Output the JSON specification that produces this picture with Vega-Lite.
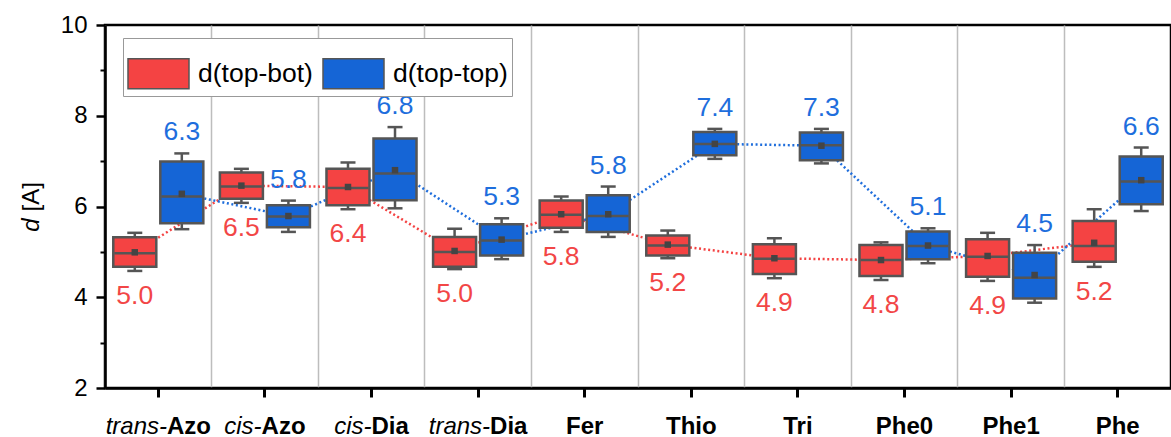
{
  "$schema": "https://vega.github.io/schema/vega-lite/v6.json",
  "width": 1066,
  "height": 363,
  "autosize": {"type": "none"},
  "padding": {"left": 105, "top": 25, "right": 0, "bottom": 49},
  "background": "white",
  "config": {
    "font": "Liberation Sans",
    "view": {"stroke": "black", "strokeWidth": 2.5}
  },
  "data": {
    "values": [
      {"cat": "trans-Azo", "s": "d(top-bot)", "min": 4.58, "q1": 4.67, "med": 4.97, "mean": 4.99, "q3": 5.32, "max": 5.42},
      {"cat": "trans-Azo", "s": "d(top-top)", "min": 5.50, "q1": 5.63, "med": 6.22, "mean": 6.28, "q3": 6.99, "max": 7.17},
      {"cat": "cis-Azo", "s": "d(top-bot)", "min": 6.08, "q1": 6.17, "med": 6.44, "mean": 6.46, "q3": 6.75, "max": 6.83},
      {"cat": "cis-Azo", "s": "d(top-top)", "min": 5.44, "q1": 5.54, "med": 5.78, "mean": 5.79, "q3": 6.03, "max": 6.13},
      {"cat": "cis-Dia", "s": "d(top-bot)", "min": 5.94, "q1": 6.03, "med": 6.41, "mean": 6.43, "q3": 6.83, "max": 6.97},
      {"cat": "cis-Dia", "s": "d(top-top)", "min": 5.96, "q1": 6.14, "med": 6.73, "mean": 6.80, "q3": 7.50, "max": 7.75},
      {"cat": "trans-Dia", "s": "d(top-bot)", "min": 4.62, "q1": 4.67, "med": 5.00, "mean": 5.02, "q3": 5.33, "max": 5.51},
      {"cat": "trans-Dia", "s": "d(top-top)", "min": 4.84, "q1": 4.92, "med": 5.25, "mean": 5.27, "q3": 5.61, "max": 5.74},
      {"cat": "Fer", "s": "d(top-bot)", "min": 5.44, "q1": 5.53, "med": 5.82, "mean": 5.83, "q3": 6.13, "max": 6.22},
      {"cat": "Fer", "s": "d(top-top)", "min": 5.33, "q1": 5.44, "med": 5.79, "mean": 5.83, "q3": 6.25, "max": 6.44},
      {"cat": "Thio", "s": "d(top-bot)", "min": 4.86, "q1": 4.92, "med": 5.14, "mean": 5.16, "q3": 5.36, "max": 5.47},
      {"cat": "Thio", "s": "d(top-top)", "min": 7.05, "q1": 7.13, "med": 7.38, "mean": 7.38, "q3": 7.64, "max": 7.71},
      {"cat": "Tri", "s": "d(top-bot)", "min": 4.42, "q1": 4.51, "med": 4.85, "mean": 4.86, "q3": 5.17, "max": 5.30},
      {"cat": "Tri", "s": "d(top-top)", "min": 6.95, "q1": 7.02, "med": 7.35, "mean": 7.34, "q3": 7.63, "max": 7.71},
      {"cat": "Phe0", "s": "d(top-bot)", "min": 4.38, "q1": 4.47, "med": 4.82, "mean": 4.82, "q3": 5.15, "max": 5.21},
      {"cat": "Phe0", "s": "d(top-top)", "min": 4.75, "q1": 4.84, "med": 5.13, "mean": 5.14, "q3": 5.45, "max": 5.52},
      {"cat": "Phe1", "s": "d(top-bot)", "min": 4.36, "q1": 4.45, "med": 4.89, "mean": 4.91, "q3": 5.28, "max": 5.42},
      {"cat": "Phe1", "s": "d(top-top)", "min": 3.88, "q1": 3.97, "med": 4.43, "mean": 4.49, "q3": 4.98, "max": 5.15},
      {"cat": "Phe", "s": "d(top-bot)", "min": 4.67, "q1": 4.78, "med": 5.13, "mean": 5.20, "q3": 5.68, "max": 5.94},
      {"cat": "Phe", "s": "d(top-top)", "min": 5.90, "q1": 6.05, "med": 6.55, "mean": 6.58, "q3": 7.10, "max": 7.30}
    ]
  },
  "resolve": {"axis": {"x": "independent", "y": "independent"}},
  "layer": [
    {
      "transform": [{"filter": "datum.s === 'd(top-bot)'"}],
      "mark": {"type": "line", "strokeDash": [2, 2.6], "strokeWidth": 2.5, "color": "#F44343"},
      "encoding": {
        "x": {"field": "cat", "type": "nominal", "sort": ["trans-Azo", "cis-Azo", "cis-Dia", "trans-Dia", "Fer", "Thio", "Tri", "Phe0", "Phe1", "Phe"], "scale": {"type": "band", "paddingInner": 0, "paddingOuter": 0}, "axis": null},
        "xOffset": {"field": "s", "type": "nominal", "sort": ["d(top-bot)", "d(top-top)"], "scale": {"domain": ["d(top-bot)", "d(top-top)"], "paddingInner": 0.085, "paddingOuter": 0.176}},
        "y": {"field": "mean", "type": "quantitative", "scale": {"domain": [2, 10], "nice": false, "zero": false}, "axis": null}
      }
    },
    {
      "transform": [{"filter": "datum.s === 'd(top-top)'"}],
      "mark": {"type": "line", "strokeDash": [2, 2.6], "strokeWidth": 2.5, "color": "#1F6EDC"},
      "encoding": {
        "x": {"field": "cat", "type": "nominal", "sort": ["trans-Azo", "cis-Azo", "cis-Dia", "trans-Dia", "Fer", "Thio", "Tri", "Phe0", "Phe1", "Phe"], "scale": {"type": "band", "paddingInner": 0, "paddingOuter": 0}, "axis": null},
        "xOffset": {"field": "s", "type": "nominal", "sort": ["d(top-bot)", "d(top-top)"]},
        "y": {"field": "mean", "type": "quantitative", "axis": null}
      }
    },
    {
      "mark": {"type": "rule", "stroke": "#555555", "strokeWidth": 2.5},
      "encoding": {
        "x": {"field": "cat", "type": "nominal", "sort": ["trans-Azo", "cis-Azo", "cis-Dia", "trans-Dia", "Fer", "Thio", "Tri", "Phe0", "Phe1", "Phe"], "scale": {"type": "band", "paddingInner": 0, "paddingOuter": 0},
          "axis": {"orient": "bottom", "title": null, "bandPosition": 0, "grid": true, "gridColor": "#bdbdbd", "gridWidth": 1.5, "ticks": false, "labels": false, "domain": false}},
        "xOffset": {"field": "s", "type": "nominal", "sort": ["d(top-bot)", "d(top-top)"]},
        "y": {"field": "min", "type": "quantitative", "axis": null},
        "y2": {"field": "max"}
      }
    },
    {
      "mark": {"type": "bar", "stroke": "#555555", "strokeWidth": 2.5, "opacity": 1},
      "encoding": {
        "x": {"field": "cat", "type": "nominal", "sort": ["trans-Azo", "cis-Azo", "cis-Dia", "trans-Dia", "Fer", "Thio", "Tri", "Phe0", "Phe1", "Phe"], "scale": {"type": "band", "paddingInner": 0, "paddingOuter": 0},
          "axis": {
            "orient": "bottom", "title": null, "grid": false,
            "domainColor": "black", "domainWidth": 2.5,
            "tickColor": "black", "tickWidth": 3, "tickSize": 9,
            "labelFontSize": 24, "labelFontWeight": "bold", "labelColor": "black", "labelPadding": 17, "labelAngle": 0,
            "labelOverlap": false, "labelBound": false, "labelFlush": false,
            "labelExpr": "indexof(datum.value, '-') >= 0 ? slice(datum.value, indexof(datum.value, '-') + 1) : datum.value",
            "labelAlign": {"condition": {"test": "indexof(datum.value, '-') >= 0", "value": "left"}, "value": "center"},
            "labelOffset": {"condition": [
              {"test": "datum.value === 'trans-Azo'", "value": 8.7},
              {"test": "datum.value === 'cis-Azo'", "value": -3.3},
              {"test": "datum.value === 'trans-Dia'", "value": 12}
            ], "value": 0}
          }},
        "xOffset": {"field": "s", "type": "nominal", "sort": ["d(top-bot)", "d(top-top)"]},
        "y": {"field": "q1", "type": "quantitative",
          "axis": {
            "orient": "left", "values": [2, 4, 6, 8, 10], "grid": false,
            "domainColor": "black", "domainWidth": 2.5,
            "tickColor": "black", "tickWidth": 2.5, "tickSize": 9,
            "labelFontSize": 24, "labelColor": "black", "labelPadding": 9,
            "title": "[A]", "titleFontSize": 24, "titleFontWeight": "normal", "titleColor": "black",
            "titleAngle": -90, "titleAlign": "left", "titleBaseline": "alphabetic", "titleX": -67, "titleY": 186
          }},
        "y2": {"field": "q3"},
        "color": {"field": "s", "type": "nominal",
          "scale": {"domain": ["d(top-bot)", "d(top-top)"], "range": ["#F44343", "#1565D6"]},
          "legend": {
            "orient": "none", "legendX": 18, "legendY": 13, "direction": "horizontal", "title": null,
            "symbolType": "M-1,-0.49H1V0.49H-1Z", "symbolSize": 3721,
            "symbolStrokeColor": "#555555", "symbolStrokeWidth": 1.5, "symbolOpacity": 1,
            "labelFontSize": 26.5, "labelColor": "black", "labelOffset": 8, "columnPadding": 7,
            "strokeColor": "#999999", "fillColor": "white", "padding": 4
          }}
      }
    },
    {
      "mark": {"type": "tick", "color": "#555555", "size": 41, "thickness": 2.5, "opacity": 1},
      "encoding": {
        "x": {"field": "cat", "type": "nominal", "sort": ["trans-Azo", "cis-Azo", "cis-Dia", "trans-Dia", "Fer", "Thio", "Tri", "Phe0", "Phe1", "Phe"], "scale": {"type": "band", "paddingInner": 0, "paddingOuter": 0}, "axis": null},
        "xOffset": {"field": "s", "type": "nominal", "sort": ["d(top-bot)", "d(top-top)"]},
        "y": {"field": "med", "type": "quantitative",
          "axis": {
            "orient": "left", "values": [3, 5, 7, 9], "grid": false, "domain": false, "labels": false,
            "tickColor": "black", "tickWidth": 2, "tickSize": 5,
            "title": "d", "titleFontStyle": "italic", "titleFontSize": 24, "titleFontWeight": "normal", "titleColor": "black",
            "titleAngle": -90, "titleAlign": "right", "titleBaseline": "alphabetic", "titleX": -67, "titleY": 193
          }}
      }
    },
    {
      "transform": [{"fold": ["min", "max"], "as": ["k", "v"]}],
      "mark": {"type": "tick", "color": "#555555", "size": 15, "thickness": 2.5, "opacity": 1},
      "encoding": {
        "x": {"field": "cat", "type": "nominal", "sort": ["trans-Azo", "cis-Azo", "cis-Dia", "trans-Dia", "Fer", "Thio", "Tri", "Phe0", "Phe1", "Phe"], "scale": {"type": "band", "paddingInner": 0, "paddingOuter": 0},
          "axis": {
            "orient": "bottom", "title": null, "grid": false, "domain": false,
            "ticks": true, "tickOpacity": 0, "tickSize": 9,
            "labelFontSize": 24, "labelFontStyle": "italic", "labelFontWeight": "normal", "labelColor": "black", "labelPadding": 17, "labelAngle": 0,
            "labelOverlap": false, "labelBound": false, "labelFlush": false,
            "labelExpr": "indexof(datum.value, '-') >= 0 ? slice(datum.value, 0, indexof(datum.value, '-') + 1) : ''",
            "labelAlign": "right",
            "labelOffset": {"condition": [
              {"test": "datum.value === 'trans-Azo'", "value": 8.7},
              {"test": "datum.value === 'cis-Azo'", "value": -3.3},
              {"test": "datum.value === 'trans-Dia'", "value": 12}
            ], "value": 0}
          }},
        "xOffset": {"field": "s", "type": "nominal", "sort": ["d(top-bot)", "d(top-top)"]},
        "y": {"field": "v", "type": "quantitative", "axis": null}
      }
    },
    {
      "mark": {"type": "square", "size": 42, "color": "#444444", "opacity": 1},
      "encoding": {
        "x": {"field": "cat", "type": "nominal", "sort": ["trans-Azo", "cis-Azo", "cis-Dia", "trans-Dia", "Fer", "Thio", "Tri", "Phe0", "Phe1", "Phe"], "scale": {"type": "band", "paddingInner": 0, "paddingOuter": 0}, "axis": null},
        "xOffset": {"field": "s", "type": "nominal", "sort": ["d(top-bot)", "d(top-top)"]},
        "y": {"field": "mean", "type": "quantitative", "axis": null}
      }
    },
    {
      "transform": [{"filter": "datum.s === 'd(top-bot)'"}],
      "mark": {"type": "text", "fontSize": 26.5, "color": "#F24646", "baseline": "middle", "dy": 25},
      "encoding": {
        "x": {"field": "cat", "type": "nominal", "sort": ["trans-Azo", "cis-Azo", "cis-Dia", "trans-Dia", "Fer", "Thio", "Tri", "Phe0", "Phe1", "Phe"], "scale": {"type": "band", "paddingInner": 0, "paddingOuter": 0}, "axis": null},
        "xOffset": {"field": "s", "type": "nominal", "sort": ["d(top-bot)", "d(top-top)"]},
        "y": {"field": "min", "type": "quantitative", "axis": null},
        "text": {"field": "mean", "type": "quantitative", "format": ".1f"}
      }
    },
    {
      "transform": [{"filter": "datum.s === 'd(top-top)'"}],
      "mark": {"type": "text", "fontSize": 26.5, "color": "#1E6EDD", "baseline": "middle", "dy": -21},
      "encoding": {
        "x": {"field": "cat", "type": "nominal", "sort": ["trans-Azo", "cis-Azo", "cis-Dia", "trans-Dia", "Fer", "Thio", "Tri", "Phe0", "Phe1", "Phe"], "scale": {"type": "band", "paddingInner": 0, "paddingOuter": 0}, "axis": null},
        "xOffset": {"field": "s", "type": "nominal", "sort": ["d(top-bot)", "d(top-top)"]},
        "y": {"field": "max", "type": "quantitative", "axis": null},
        "text": {"field": "mean", "type": "quantitative", "format": ".1f"}
      }
    }
  ]
}
